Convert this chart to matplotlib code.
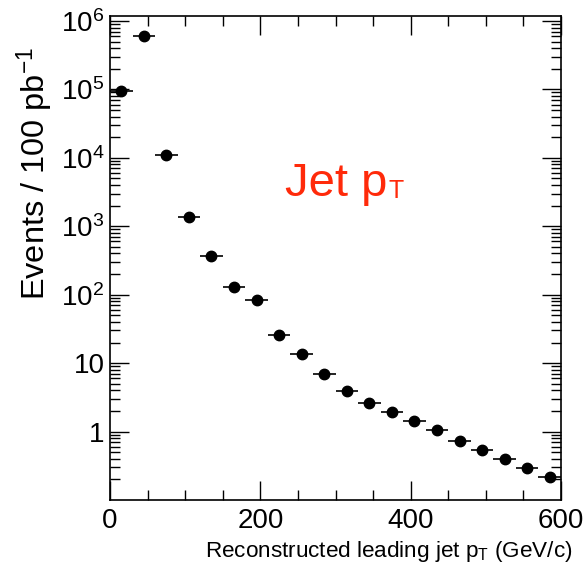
import numpy as np
import matplotlib
matplotlib.use('Agg')
import matplotlib.pyplot as plt
from matplotlib.ticker import MultipleLocator, LogLocator, NullFormatter

plt.rcParams['font.family'] = ['Liberation Sans', 'DejaVu Sans']
plt.rcParams['mathtext.fontset'] = 'custom'
plt.rcParams['mathtext.rm'] = 'Liberation Sans'
plt.rcParams['mathtext.it'] = 'Liberation Sans'

# leading jet pt spectrum, 30 GeV bins
bin_centers = [15, 45, 75, 105, 135, 165, 195, 225, 255, 285,
               315, 345, 375, 405, 435, 465, 495, 525, 555, 585]
events = [9.5e4, 6.0e5, 1.1e4, 1.38e3, 362, 128, 84.5, 25.8, 13.5, 6.95,
          3.87, 2.62, 1.94, 1.41, 1.04, 0.74, 0.54, 0.395, 0.29, 0.218]
bin_half_width = 15

ytick_vals = [1, 10, 1e2, 1e3, 1e4, 1e5, 1e6]
ytick_labels = ['1', '10', '$10^2$', '$10^3$', '$10^4$', '$10^5$', '$10^6$']

fig = plt.figure(figsize=(5.86, 5.66), dpi=100)
ax = fig.add_axes([110/586, 66/566, 451/586, 484/566])

ax.errorbar(bin_centers, events, xerr=bin_half_width, fmt='o', color='black',
            markersize=7.5, elinewidth=1.2, capsize=0)

ax.set_yscale('log')
ax.set_xlim(0, 600)
ax.set_ylim(0.1, 1.18e6)

ax.xaxis.set_major_locator(MultipleLocator(200))
ax.xaxis.set_minor_locator(MultipleLocator(50))
ax.set_yticks(ytick_vals)
ax.set_yticklabels(ytick_labels)
ax.yaxis.set_minor_locator(LogLocator(base=10, subs=np.arange(2, 10)))
ax.yaxis.set_minor_formatter(NullFormatter())

ax.tick_params(which='both', direction='in', top=True, right=True, width=1)
ax.tick_params(which='major', length=14, labelsize=20)
ax.tick_params(which='minor', length=7)
ax.tick_params(axis='x', which='major', pad=6)
ax.tick_params(axis='y', which='major', pad=4)
for s in ax.spines.values():
    s.set_linewidth(1.2)

ax.set_ylabel('Events / 100 pb$^{-1}$', fontsize=23.4, loc='top')
ax.yaxis.set_label_coords(-0.120, 0.936)

fig.text(572/586, 9/566, 'Reconstructed leading jet p$_{T}$ (GeV/c)',
         fontsize=16.2, ha='right', va='baseline')

# red label, small T subscript drawn next to "Jet p"
red = '#ff2a0a'
jet = ax.text(233, 2.8e3, 'Jet p', color=red, fontsize=34,
              ha='left', va='baseline')
ax.annotate('T', xy=(1, 0), xycoords=jet, xytext=(1, 5.5),
            textcoords='offset points', color=red, fontsize=18,
            ha='left', va='baseline')

fig.savefig('out.png', dpi=100)
